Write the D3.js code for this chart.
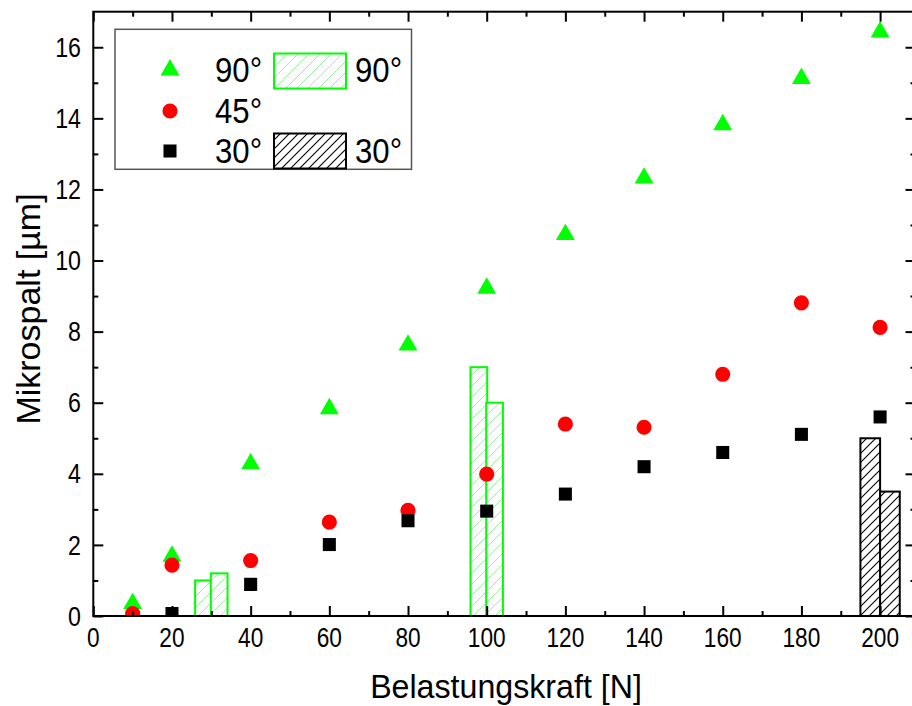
<!DOCTYPE html>
<html>
<head>
<meta charset="utf-8">
<script src="https://cdn.jsdelivr.net/npm/d3@7"></script>
<style>
  html, body { margin: 0; padding: 0; background: #fff; }
  svg { display: block; }
  text { font-family: "Liberation Sans", Arial, sans-serif; fill: #000; }
</style>
</head>
<body>
<svg id="chart" width="912" height="706"></svg>
<script>
// Load force [N] for each measurement
const force = [10, 20, 40, 60, 80, 100, 120, 140, 160, 180, 200];
// Micro gap [µm] per angle
const gap90 = [0.35, 1.68, 4.28, 5.83, 7.62, 9.22, 10.73, 12.32, 13.82, 15.12, 16.43];
const gap45 = [0.07, 1.43, 1.56, 2.64, 2.97, 3.99, 5.40, 5.31, 6.80, 8.81, 8.12];
const force30 = [20, 40, 60, 80, 100, 120, 140, 160, 180, 200];
const gap30 = [0.07, 0.89, 2.01, 2.68, 2.95, 3.43, 4.20, 4.60, 5.11, 5.60];

// Hatched bars (position on the force axis, height in µm)
const bar90X = [28, 32, 98, 102];
const bar90Y = [1.0, 1.2, 7.0, 6.0];
const bar30X = [197.5, 202.5];
const bar30Y = [5.0, 3.5];

// Axis ticks
const xMajor = [0, 20, 40, 60, 80, 100, 120, 140, 160, 180, 200];
const xMinor = [10, 30, 50, 70, 90, 110, 130, 150, 170, 190];
const yMajor = [0, 2, 4, 6, 8, 10, 12, 14, 16];
const yMinor = [1, 3, 5, 7, 9, 11, 13, 15];

const legendLabels = ["90°", "45°", "30°"];

const svg = d3.select("#chart");
const X0 = 93.3, X1 = 915.5, Y0 = 616, Y1 = 11.7;
const x = d3.scaleLinear().domain([0, 209]).range([X0, X1]);
const y = d3.scaleLinear().domain([0, 17]).range([Y0, Y1]);

const GREEN = "#00ff00", RED = "#ff0000", BLACK = "#000000";

// hatch patterns
const defs = svg.append("defs");
function hatch(id, size, color, width) {
  const p = defs.append("pattern").attr("id", id)
    .attr("patternUnits", "userSpaceOnUse")
    .attr("width", size).attr("height", size);
  p.append("rect").attr("width", size).attr("height", size).attr("fill", "#fff");
  p.append("path")
    .attr("d", `M0,${size} L${size},0 M${-size/2},${size/2} L${size/2},${-size/2} M${size/2},${size*1.5} L${size*1.5},${size/2}`)
    .attr("stroke", color).attr("stroke-width", width).attr("fill", "none");
}
hatch("hatchGreen", 11, "#9cef9c", 1);
hatch("hatchBlack", 9, "#000", 1.1);

defs.append("clipPath").attr("id", "plotClip")
  .append("rect").attr("x", X0).attr("y", Y1).attr("width", X1 - X0).attr("height", Y0 - Y1);

// condensed text helper
function ctext(parent, tx, ty, str, size, anchor, sx, rot) {
  const g = parent.append("g").attr("transform", `translate(${tx},${ty})${rot ? ` rotate(${rot})` : ""}`);
  g.append("text")
    .attr("transform", `scale(${sx},1)`)
    .attr("text-anchor", anchor)
    .attr("dominant-baseline", "central")
    .style("font-size", size + "px")
    .text(str);
  return g;
}

const plot = svg.append("g").attr("clip-path", "url(#plotClip)");

// bars
function bars(xs, ys, w, fill, stroke) {
  plot.append("g").selectAll("rect").data(xs.map((d, i) => [d, ys[i]])).join("rect")
    .attr("x", d => x(d[0] - w / 2))
    .attr("y", d => y(d[1]))
    .attr("width", d => x(d[0] + w / 2) - x(d[0] - w / 2))
    .attr("height", d => y(0) - y(d[1]))
    .attr("fill", fill).attr("stroke", stroke).attr("stroke-width", 2);
}
bars(bar90X, bar90Y, 4.25, "url(#hatchGreen)", GREEN);
bars(bar30X, bar30Y, 5, "url(#hatchBlack)", BLACK);

// scatter markers
const triSym = d3.symbol().type(d3.symbolTriangle).size(155);
const cirSym = d3.symbol().type(d3.symbolCircle).size(180);
const sqSym = d3.symbol().type(d3.symbolSquare).size(170);

plot.append("g").selectAll("path").data(force.map((f, i) => [f, gap90[i]])).join("path")
  .attr("d", triSym).attr("transform", d => `translate(${x(d[0])},${y(d[1])})`).attr("fill", GREEN);
plot.append("g").selectAll("path").data(force.map((f, i) => [f, gap45[i]])).join("path")
  .attr("d", cirSym).attr("transform", d => `translate(${x(d[0])},${y(d[1])})`).attr("fill", RED);
plot.append("g").selectAll("path").data(force30.map((f, i) => [f, gap30[i]])).join("path")
  .attr("d", sqSym).attr("transform", d => `translate(${x(d[0])},${y(d[1])})`).attr("fill", BLACK);

// axes
function styleAxis(g) {
  g.select(".domain").remove();
  g.selectAll("line").attr("stroke", "#000").attr("stroke-width", 2);
}
const axes = svg.append("g");
axes.append("g").attr("transform", `translate(0,${Y0})`)
  .call(d3.axisBottom(x).tickValues(xMajor).tickSizeInner(-10).tickSizeOuter(0).tickFormat(""))
  .call(styleAxis);
axes.append("g").attr("transform", `translate(0,${Y0})`)
  .call(d3.axisBottom(x).tickValues(xMinor).tickSizeInner(-5).tickSizeOuter(0).tickFormat(""))
  .call(styleAxis);
axes.append("g").attr("transform", `translate(0,${Y1})`)
  .call(d3.axisTop(x).tickValues(xMajor).tickSizeInner(-10).tickSizeOuter(0).tickFormat(""))
  .call(styleAxis);
axes.append("g").attr("transform", `translate(0,${Y1})`)
  .call(d3.axisTop(x).tickValues(xMinor).tickSizeInner(-5).tickSizeOuter(0).tickFormat(""))
  .call(styleAxis);
axes.append("g").attr("transform", `translate(${X0},0)`)
  .call(d3.axisLeft(y).tickValues(yMajor).tickSizeInner(-10).tickSizeOuter(0).tickFormat(""))
  .call(styleAxis);
axes.append("g").attr("transform", `translate(${X0},0)`)
  .call(d3.axisLeft(y).tickValues(yMinor).tickSizeInner(-5).tickSizeOuter(0).tickFormat(""))
  .call(styleAxis);
axes.append("g").attr("transform", `translate(${X1},0)`)
  .call(d3.axisRight(y).tickValues(yMajor).tickSizeInner(-10).tickSizeOuter(0).tickFormat(""))
  .call(styleAxis);
axes.append("g").attr("transform", `translate(${X1},0)`)
  .call(d3.axisRight(y).tickValues(yMinor).tickSizeInner(-5).tickSizeOuter(0).tickFormat(""))
  .call(styleAxis);

// frame
axes.append("rect").attr("x", X0).attr("y", Y1).attr("width", X1 - X0).attr("height", Y0 - Y1)
  .attr("fill", "none").attr("stroke", "#000").attr("stroke-width", 2);

// tick labels
xMajor.forEach(v => ctext(axes, x(v), 637, String(v), 27, "middle", 0.84));
yMajor.forEach(v => ctext(axes, 81, y(v), String(v), 27, "end", 0.86));

// axis titles
ctext(svg, 506, 687, "Belastungskraft [N]", 32.5, "middle", 0.99);
ctext(svg, 28, 309, "Mikrospalt [µm]", 34, "middle", 1.0, -90);

// legend
const lg = svg.append("g");
lg.append("rect").attr("x", 115).attr("y", 29.3).attr("width", 296.5).attr("height", 140)
  .attr("fill", "#fff").attr("stroke", "#555").attr("stroke-width", 1.5);
const rowsY = [70, 111, 151];
lg.append("path").attr("d", triSym).attr("transform", `translate(170,${rowsY[0]})`).attr("fill", GREEN);
lg.append("path").attr("d", cirSym).attr("transform", `translate(170,${rowsY[1]})`).attr("fill", RED);
lg.append("path").attr("d", sqSym).attr("transform", `translate(170,${rowsY[2]})`).attr("fill", BLACK);
legendLabels.forEach((t, i) => ctext(lg, 215, rowsY[i], t, 35, "start", 0.89));
lg.append("rect").attr("x", 274).attr("y", 53.5).attr("width", 72).attr("height", 35)
  .attr("fill", "url(#hatchGreen)").attr("stroke", GREEN).attr("stroke-width", 2);
lg.append("rect").attr("x", 274).attr("y", 133.5).attr("width", 72).attr("height", 35)
  .attr("fill", "url(#hatchBlack)").attr("stroke", BLACK).attr("stroke-width", 2);
ctext(lg, 355, rowsY[0], legendLabels[0], 35, "start", 0.89);
ctext(lg, 355, rowsY[2], legendLabels[2], 35, "start", 0.89);
</script>
</body>
</html>
